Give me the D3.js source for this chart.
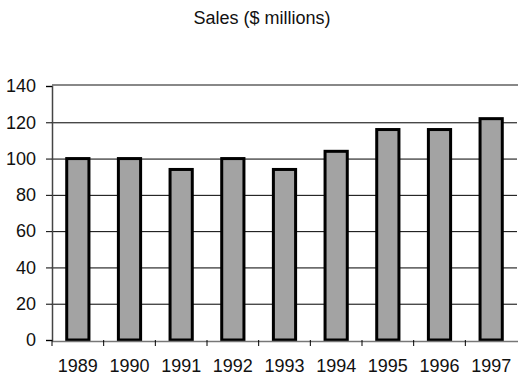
<!DOCTYPE html>
<html>
<head>
<meta charset="utf-8">
<script src="https://cdn.jsdelivr.net/npm/d3@7"></script>
<style>
  body { margin: 0; background: #fff; }
  text { font-family: "Liberation Sans", Arial, sans-serif; fill: #111; }
</style>
</head>
<body>
<svg width="518" height="375"></svg>
<script>
// chart data
const years = ["1989", "1990", "1991", "1992", "1993", "1994", "1995", "1996", "1997"];
const sales = [100, 100, 94, 100, 94, 104, 116, 116, 122];
const yTicks = [0, 20, 40, 60, 80, 100, 120, 140];

const svg = d3.select("svg");
const margin = { left: 52, right: 1, top: 86, bottom: 35 };
const width = 518, height = 375;
const font = "'Liberation Sans', Arial, sans-serif";

const x = d3.scaleBand()
    .domain(years)
    .range([margin.left, width - margin.right])
    .paddingInner(0.57)
    .paddingOuter(0.285);

const y = d3.scaleLinear()
    .domain([0, 140])
    .range([height - margin.bottom, margin.top]);

// title
svg.append("text")
    .attr("x", 262)
    .attr("y", 24)
    .attr("text-anchor", "middle")
    .style("font-size", "18px")
    .text("Sales ($ millions)");

// gridlines
svg.append("g")
    .selectAll("line")
    .data(yTicks.filter(d => d > 0 && d < 140))
    .join("line")
    .attr("x1", margin.left)
    .attr("x2", width - margin.right)
    .attr("y1", d => y(d) + 0.5)
    .attr("y2", d => y(d) + 0.5)
    .attr("stroke", "#000")
    .attr("stroke-width", 1);

// top border
svg.append("line")
    .attr("x1", margin.left)
    .attr("x2", width)
    .attr("y1", y(140) - 1)
    .attr("y2", y(140) - 1)
    .attr("stroke", "#888")
    .attr("stroke-width", 2);

// bars
svg.append("g")
    .selectAll("rect")
    .data(sales)
    .join("rect")
    .attr("x", (d, i) => x(years[i]))
    .attr("y", d => y(d))
    .attr("width", x.bandwidth())
    .attr("height", d => y(0) - y(d))
    .attr("fill", "#a3a3a3")
    .attr("stroke", "#000")
    .attr("stroke-width", 3);

// y axis
const yAxis = svg.append("g")
    .attr("transform", `translate(${margin.left},0)`)
    .call(d3.axisLeft(y).tickValues(yTicks).tickSize(6).tickPadding(10));
yAxis.select(".domain").attr("stroke", "#444").attr("stroke-width", 1.5);
yAxis.selectAll(".tick line").attr("stroke", "#000");
yAxis.selectAll("text")
    .style("font-size", "18px")
    .style("font-family", font);

// x axis baseline
svg.append("line")
    .attr("x1", margin.left)
    .attr("x2", width)
    .attr("y1", y(0) + 1.5)
    .attr("y2", y(0) + 1.5)
    .attr("stroke", "#777")
    .attr("stroke-width", 1.5);

const xAxis = svg.append("g")
    .attr("transform", `translate(0,${y(0)})`)
    .call(d3.axisBottom(x).tickSize(0).tickPadding(19));
xAxis.select(".domain").remove();
xAxis.selectAll("text")
    .style("font-size", "18px")
    .style("font-family", font);

// tick marks at band boundaries
svg.append("g")
    .selectAll("line")
    .data(years)
    .join("line")
    .attr("x1", d => x(d) - x.step() * x.paddingOuter())
    .attr("x2", d => x(d) - x.step() * x.paddingOuter())
    .attr("y1", y(0))
    .attr("y2", y(0) + 6)
    .attr("stroke", "#000");
</script>
</body>
</html>
